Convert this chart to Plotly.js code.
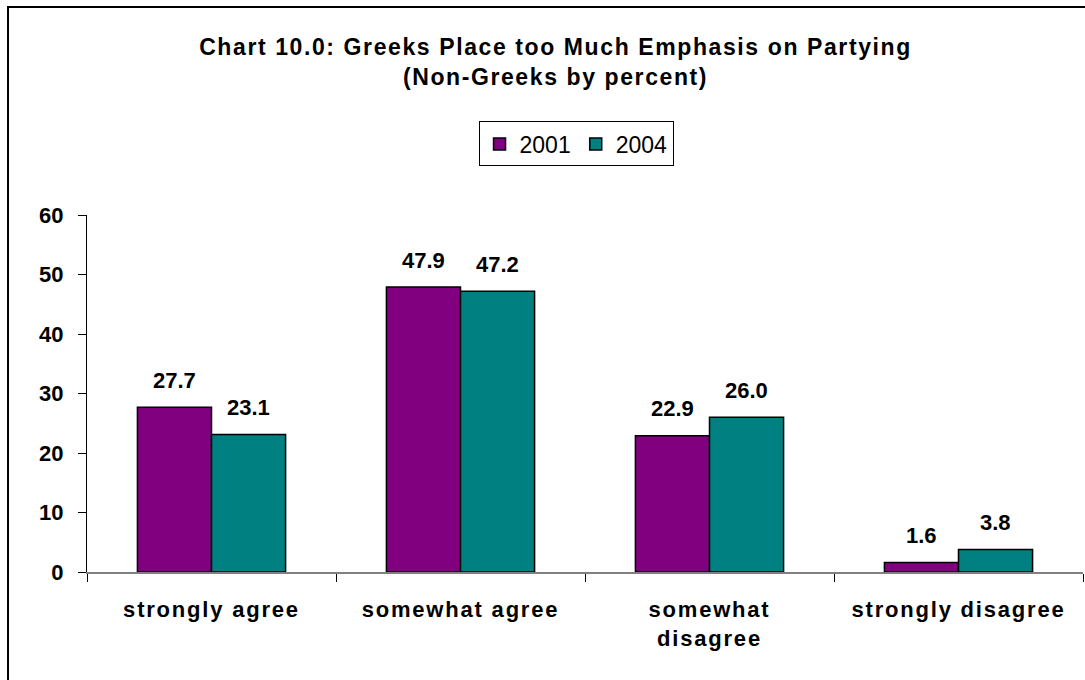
<!DOCTYPE html>
<html><head><meta charset="utf-8">
<script src="https://cdn.plot.ly/plotly-3.0.1.min.js"></script>
<style>html,body{margin:0;padding:0;background:#fff}#chart{width:1085px;height:680px}
svg .gtitle{letter-spacing:1.6px}
svg .xtick text{letter-spacing:1.8px}
</style>
</head><body><div id="chart"></div>
<script>
const categories = ["strongly agree", "somewhat agree", "somewhat<br>disagree", "strongly disagree"];
const values2001 = [27.7, 47.9, 22.9, 1.6];
const values2004 = [23.1, 47.2, 26.0, 3.8];
const seriesNames = ["2001", "2004"];
const yTicks = [0, 10, 20, 30, 40, 50, 60];

const F = "Liberation Sans, Arial, sans-serif";
const colors = ["#800080", "#008080"];
const allVals = [values2001, values2004];
const data = allVals.map((vals, i) => ({
  type: "bar", x: categories, y: vals, name: seriesNames[i],
  marker: {color: colors[i], line: {color: "#000", width: 1.5}},
  hoverinfo: "none"
}));
// value labels via annotations placed on the data coordinates
const barPx = 996 / 4 * (1 - 0.405) / 2;
const annotations = [];
allVals.forEach((vals, i) => {
  vals.forEach((v, j) => {
    annotations.push({
      x: categories[j], y: v, xref: "x", yref: "y", text: "<b>" + v.toFixed(1) + "</b>",
      showarrow: false, xshift: (i === 0 ? -1 : 1) * barPx / 2, yshift: 27,
      yanchor: "middle", xanchor: "center",
      font: {family: F, size: 22, color: "#000"}
    });
  });
});
const layout = {
  width: 1085, height: 680,
  margin: {l: 87, r: 2, t: 215, b: 108},
  paper_bgcolor: "#fff", plot_bgcolor: "#fff",
  barmode: "group", bargap: 0.405, bargroupgap: 0,
  showlegend: true,
  title: {text: "<b>Chart 10.0: Greeks Place too Much Emphasis on Partying<br>(Non-Greeks by percent)</b>",
    font: {family: F, size: 23, color: "#000"}, x: 0.512, xanchor: "center", yref: "container", y: 0.919, yanchor: "middle"},
  legend: {orientation: "h", x: 0.491, xanchor: "center", y: 1.199, yanchor: "middle",
    font: {family: F, size: 23, color: "#000"}, bordercolor: "#000", borderwidth: 1,
    traceorder: "normal", itemwidth: 30},
  xaxis: {type: "category", showline: true, linecolor: "#808080", linewidth: 2,
    ticks: "outside", tickson: "boundaries", ticklen: 8, tickcolor: "#000", tickwidth: 1,
    ticklabelstandoff: 17,
    tickfont: {family: F, size: 22, color: "#000", weight: "bold"}, showgrid: false, fixedrange: true},
  yaxis: {range: [0, 60], tickvals: yTicks, showline: true, linecolor: "#000", linewidth: 1,
    ticks: "outside", ticklen: 8, tickcolor: "#000", showgrid: false, zeroline: false,
    ticklabelstandoff: 10,
    tickfont: {family: F, size: 22, color: "#000", weight: "bold"}, fixedrange: true},
  annotations: annotations,
  shapes: [{type: "rect", xref: "paper", yref: "paper", x0: -0.0793, x1: 1.3, y0: -0.6, y1: 1.5826,
    line: {color: "#000", width: 2}, fillcolor: "rgba(0,0,0,0)"}]
};
Plotly.newPlot("chart", data, layout, {displayModeBar: false, staticPlot: true});
</script></body></html>
